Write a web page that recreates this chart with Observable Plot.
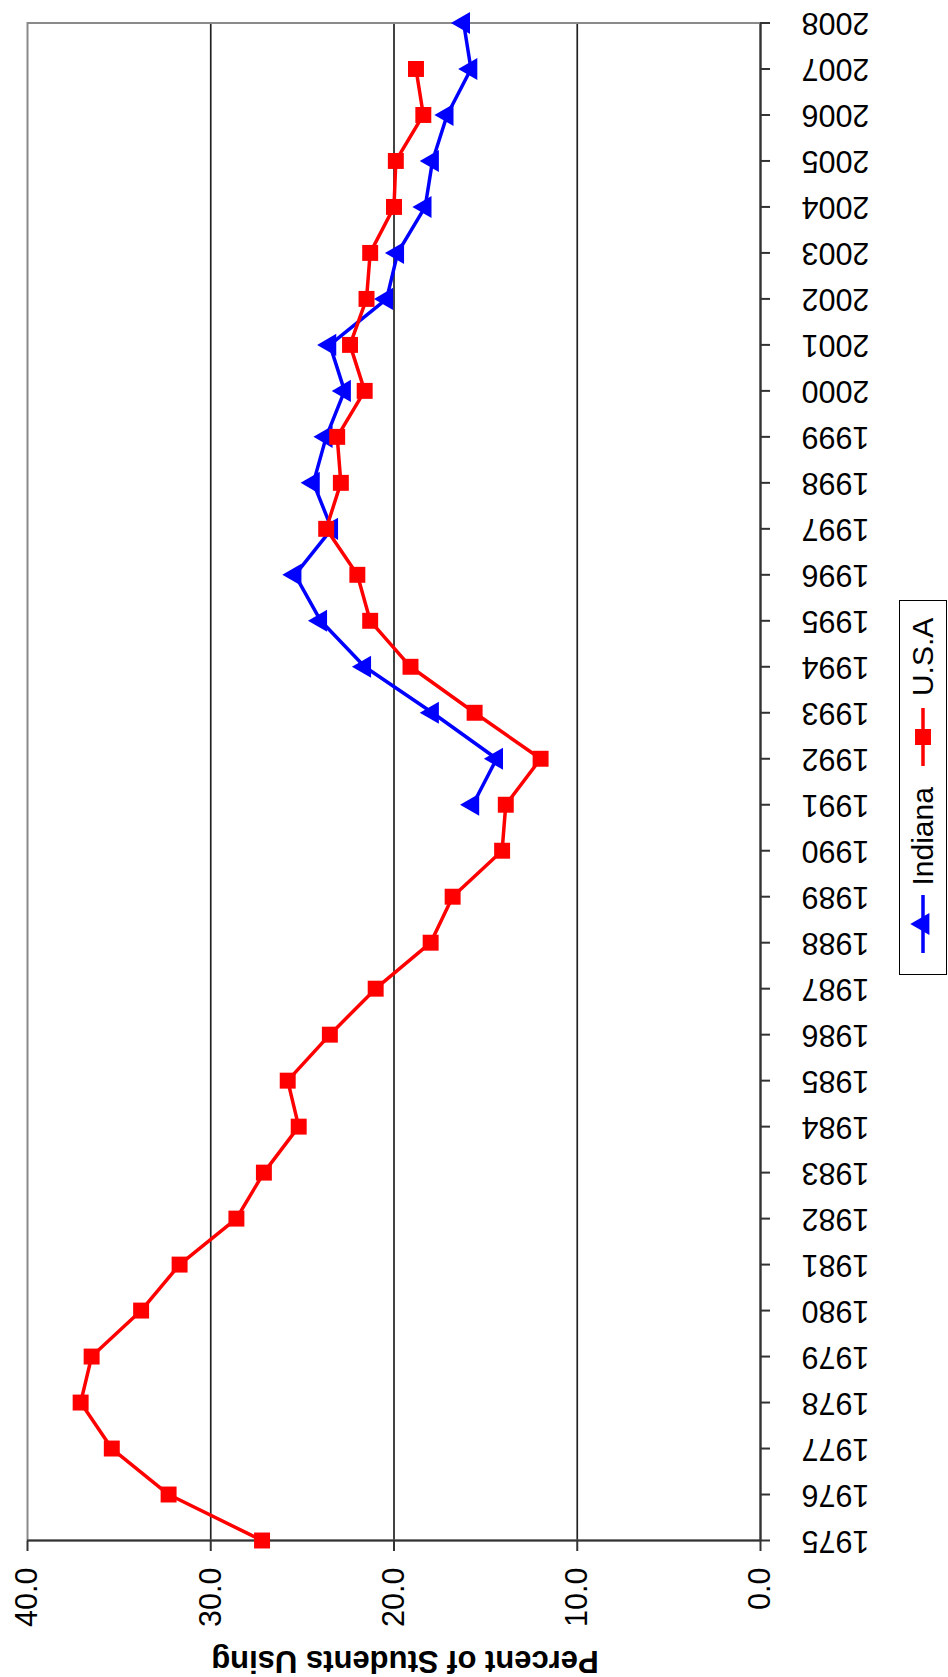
<!DOCTYPE html>
<html>
<head>
<meta charset="utf-8">
<script src="https://cdn.jsdelivr.net/npm/d3@7"></script>
<script src="https://cdn.jsdelivr.net/npm/@observablehq/plot@0.6"></script>
<style>
  html, body { margin: 0; padding: 0; overflow: hidden; background: #fff; width: 948px; height: 1677px; }
  #fig {
    position: absolute; left: 0; top: 0; width: 1677px; height: 948px;
    transform-origin: 0 0; transform: translate(0, 1677px) rotate(-90deg);
    background: #fff; font-family: "Liberation Sans", Arial, Helvetica, sans-serif;
  }
  #legend {
    position: absolute; left: 702px; top: 899px; width: 375px; height: 48px; box-sizing: border-box;
    border: 1.5px solid #000; background: #fff; display: flex; align-items: center;
    padding-left: 20.5px; font-size: 30px; color: #000;
  }
  #legend svg { display: block; flex: none; }
  #legend span { line-height: 1; }
</style>
</head>
<body>
<div id="fig"></div>
<script>
// ---- data ----
const usaYears = [1975,1976,1977,1978,1979,1980,1981,1982,1983,1984,1985,1986,1987,1988,1989,1990,1991,1992,1993,1994,1995,1996,1997,1998,1999,2000,2001,2002,2003,2004,2005,2006,2007];
const usaValues = [27.2,32.3,35.4,37.1,36.5,33.8,31.7,28.6,27.1,25.2,25.8,23.5,21.0,18.0,16.8,14.1,13.9,12.0,15.6,19.1,21.3,22.0,23.7,22.9,23.1,21.6,22.4,21.5,21.3,20.0,19.9,18.4,18.8];
const indianaYears = [1991,1992,1993,1994,1995,1996,1997,1998,1999,2000,2001,2002,2003,2004,2005,2006,2007,2008];
const indianaValues = [15.7,14.4,17.9,21.6,24.0,25.4,23.4,24.4,23.7,22.7,23.5,20.4,19.8,18.3,17.9,17.1,15.8,16.2];
const yearTicks = [1975,1976,1977,1978,1979,1980,1981,1982,1983,1984,1985,1986,1987,1988,1989,1990,1991,1992,1993,1994,1995,1996,1997,1998,1999,2000,2001,2002,2003,2004,2005,2006,2007,2008];
const valueTicks = [0,10,20,30,40];
const gridValues = [10,20,30];
const seriesNames = ["Indiana", "U.S.A"];
const seriesColors = ["#0000ff", "#ff0000"];
const axisTitle = "Percent of Students Using";

const usa = usaYears.map((year, i) => ({year, value: usaValues[i]}));
const indiana = indianaYears.map((year, i) => ({year, value: indianaValues[i]}));

const FONT = '"Liberation Sans", Arial, Helvetica, sans-serif';

const chart = Plot.plot({
  width: 1677,
  height: 948,
  marginLeft: 136,
  marginRight: 23.5,
  marginTop: 27,
  marginBottom: 188,
  style: {fontFamily: FONT, background: "#fff", color: "#000", overflow: "visible"},
  x: {domain: [1975, 2008]},
  y: {domain: [0, 40]},
  marks: [
    Plot.ruleY(gridValues, {stroke: "#222", strokeWidth: 1.7}),
    Plot.frame({stroke: "#8a8a8a", strokeWidth: 2}),
    Plot.ruleY([0], {stroke: "#333", strokeWidth: 2.2}),
    Plot.ruleX([1975], {stroke: "#333", strokeWidth: 2.2}),
    Plot.axisX(yearTicks, {tickFormat: d3.format("d"), tickRotate: -90, tickSize: 10, tickPadding: 31, fontSize: 30.5, label: null, stroke: "#333", strokeWidth: 2}),
    Plot.axisY(valueTicks, {tickFormat: d3.format(".1f"), tickSize: 10, tickPadding: 17, fontSize: 30.5, label: null, stroke: "#333", strokeWidth: 2}),
    Plot.text([axisTitle], {frameAnchor: "left", textAnchor: "middle", rotate: -90, dx: -110, dy: 11, lineAnchor: "bottom", fontSize: 31, fontWeight: "bold", fill: "#000"}),
    Plot.line(indiana, {x: "year", y: "value", stroke: seriesColors[0], strokeWidth: 3.5}),
    Plot.dot(indiana, {x: "year", y: "value", symbol: "triangle", r: 8.2, fill: seriesColors[0], stroke: "none"}),
    Plot.line(usa, {x: "year", y: "value", stroke: seriesColors[1], strokeWidth: 3.5}),
    Plot.dot(usa, {x: "year", y: "value", symbol: "square", r: 9, fill: seriesColors[1], stroke: "none"})
  ]
});

const fig = document.getElementById("fig");
fig.appendChild(chart);

// ---- legend ----
const legend = document.createElement("div");
legend.id = "legend";
const symbols = [d3.symbolTriangle, d3.symbolSquare];
const sizes = [Math.PI * 8.2 * 8.2, Math.PI * 9 * 9];
const gaps = [[0, 10], [21, 12]];
seriesNames.forEach((name, i) => {
  const sw = d3.create("svg").attr("width", 58).attr("height", 30)
    .style("margin-left", gaps[i][0] + "px");
  sw.append("line").attr("x1", 0).attr("x2", 58).attr("y1", 15).attr("y2", 15)
    .attr("stroke", seriesColors[i]).attr("stroke-width", 3.5);
  sw.append("path").attr("transform", "translate(29,15)")
    .attr("d", d3.symbol(symbols[i], sizes[i])()).attr("fill", seriesColors[i]);
  legend.appendChild(sw.node());
  const span = document.createElement("span");
  span.textContent = name;
  span.style.marginLeft = gaps[i][1] + "px";
  legend.appendChild(span);
});
fig.appendChild(legend);
</script>
</body>
</html>
